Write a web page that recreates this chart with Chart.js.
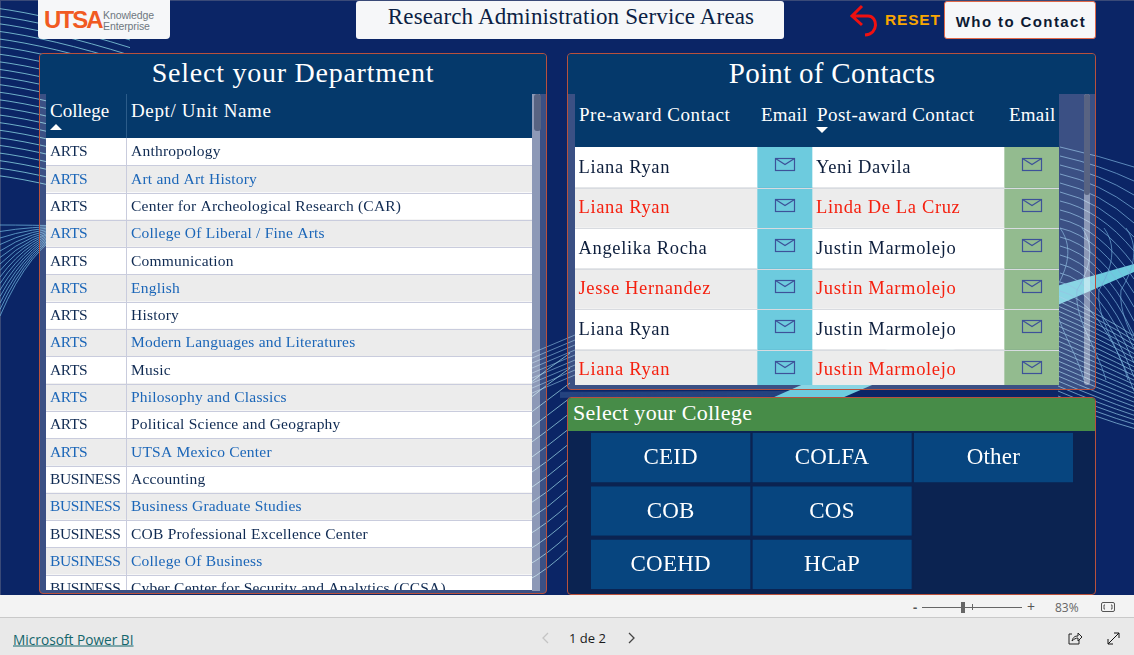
<!DOCTYPE html>
<html><head><meta charset="utf-8">
<script src="https://cdn.jsdelivr.net/npm/chart.js@4"></script>
<style>
*{box-sizing:border-box}
html,body{margin:0;padding:0;width:1134px;height:655px;overflow:hidden;background:#f3f3f3}
.a{position:absolute}
.s{font-family:"Liberation Serif",serif}
.t{position:absolute;white-space:nowrap;line-height:1;transform:translateY(-50%)}
.c{transform:translate(-50%,-50%)}
canvas{display:block}
</style></head><body>
<div class="a" id="report" style="left:0;top:0;width:1134px;height:595px;background:#0b2566;overflow:hidden;border-top:1px solid #3a4a78;border-left:1px solid #3a4a78"></div>
<svg class="a" id="decor" style="left:0;top:0" width="1134" height="595"></svg>

<!-- logo / title / buttons -->
<div class="a" style="left:38px;top:0;width:132px;height:39px;background:#f6f7f9;border-radius:0 0 4px 4px"></div>
<div class="t" style="left:44px;top:20px;font:bold 24px 'Liberation Sans';letter-spacing:-1.9px;color:#f15a22">UTSA</div>
<div class="t" style="left:103px;top:15px;font:10.5px 'Liberation Sans';letter-spacing:-.1px;color:#6f7780">Knowledge</div>
<div class="t" style="left:103px;top:26px;font:10.5px 'Liberation Sans';letter-spacing:-.1px;color:#6f7780">Enterprise</div>
<div class="a" style="left:356px;top:1px;width:428px;height:38px;background:#f6f7f9;border-radius:3px"></div>
<div class="t s c" style="left:571px;top:16px;font-size:23px;letter-spacing:.15px;color:#0c1f45">Research Administration Service Areas</div>
<svg class="a" style="left:848px;top:3px" width="34" height="34"><path d="M14 3 L4 13 L14 22 M5 13 H20 C30 13 31 31 17 32" fill="none" stroke="#f01010" stroke-width="3"/></svg>
<div class="t" style="left:885px;top:20px;font:bold 15.5px 'Liberation Sans';letter-spacing:.8px;color:#f9a602">RESET</div>
<div class="a" style="left:944px;top:1px;width:152px;height:38px;background:#f6f7f9;border:1px solid #e0694a;border-radius:3px"></div>
<div class="t c" style="left:1021px;top:21px;font:bold 15px 'Liberation Sans';letter-spacing:1.4px;color:#0d1a33">Who to Contact</div>

<!-- department panel -->
<div class="a" style="left:39px;top:53px;width:508px;height:541px;border:1px solid #b9513c;border-radius:4px;overflow:hidden;background:rgba(255,255,255,.2)">
  <div class="a" style="left:0;top:0;width:506px;height:40px;background:#05396b"></div>
  <div class="a" style="left:6px;top:40px;width:486px;height:44px;background:#05396b;border-right:0"></div>
  <div class="a" style="left:86px;top:40px;width:1px;height:44px;background:#2c5c8a"></div>
  <div class="a" style="left:492px;top:40px;width:8px;height:497px;background:rgba(255,255,255,.42)"></div>
  <div class="a" style="left:494px;top:40px;width:7px;height:37px;background:#586382;border-radius:3px"></div>
  <div class="a" style="left:6px;top:84px;width:486px;height:452px;overflow:hidden"><canvas id="deptChart" width="486" height="464"></canvas></div>
</div>
<div class="t s c" style="left:293px;top:73px;font-size:28px;letter-spacing:.75px;color:#fff">Select your Department</div>
<div class="t s" style="left:50px;top:110px;font-size:19px;color:#fff">College</div>
<svg class="a" style="left:49px;top:122px" width="16" height="10"><path d="M1 8 L7 2 L13 8Z" fill="#fff"/></svg>
<div class="t s" style="left:131px;top:110px;font-size:19px;letter-spacing:.65px;color:#fff">Dept/ Unit Name</div>

<!-- contacts panel -->
<div class="a" style="left:567px;top:53px;width:529px;height:337px;border:1px solid #b9513c;border-radius:4px;overflow:hidden;background:rgba(255,255,255,.2)">
  <div class="a" style="left:0;top:0;width:527px;height:40px;background:#05396b"></div>
  <div class="a" style="left:7px;top:40px;width:484px;height:53px;background:#05396b"></div>
  <div class="a" style="left:516px;top:40px;width:6px;height:291px;background:rgba(255,255,255,.42);border-radius:3px"></div>
  <div class="a" style="left:516px;top:40px;width:6px;height:101px;background:#586382;border-radius:3px"></div>
  <div class="a" style="left:7px;top:93px;width:484px;height:238px;overflow:hidden"><canvas id="contactChart" width="484" height="243"></canvas></div>
</div>
<div class="t s c" style="left:832px;top:73px;font-size:29px;letter-spacing:.3px;color:#fff">Point of Contacts</div>
<div class="t s" style="left:579px;top:113.5px;font-size:19px;letter-spacing:.55px;color:#fff">Pre-award Contact</div>
<div class="t s" style="left:761px;top:113.5px;font-size:19px;letter-spacing:.2px;color:#fff">Email</div>
<div class="t s" style="left:817px;top:113.5px;font-size:19px;letter-spacing:.45px;color:#fff">Post-award Contact</div>
<div class="t s" style="left:1009px;top:113.5px;font-size:19px;letter-spacing:.2px;color:#fff">Email</div>
<svg class="a" style="left:815px;top:126px" width="16" height="10"><path d="M1 1 L7 7 L13 1Z" fill="#fff"/></svg>

<!-- college panel -->
<div class="a" style="left:567px;top:397px;width:529px;height:198px;border:1px solid #b9513c;border-radius:4px;overflow:hidden;background:#0b2351">
  <div class="a" style="left:0;top:0;width:527px;height:33px;background:#478c48"></div>
  <div class="a" style="left:23px;top:33px"><canvas id="collegeChart" width="484" height="160"></canvas></div>
</div>
<div class="t s" style="left:573px;top:413px;font-size:22px;letter-spacing:.3px;color:#fff">Select your College</div>

<!-- viewer chrome -->
<div class="a" style="left:0;top:617px;width:1134px;height:38px;background:#e9e9e9;border-top:1px solid #c9c9c9"></div>
<div class="t" style="left:913px;top:607px;font:bold 13px 'Open Sans';color:#555">-</div>
<div class="a" style="left:922px;top:607px;width:100px;height:1px;background:#666"></div>
<div class="a" style="left:961px;top:602px;width:4px;height:11px;background:#666"></div>
<div class="a" style="left:972px;top:604px;width:1px;height:6px;background:#666"></div>
<div class="t" style="left:1027px;top:606px;font:14px 'Open Sans';color:#555">+</div>
<div class="t" style="left:1055px;top:607px;font:12px 'Open Sans';color:#666">83%</div>
<svg class="a" style="left:1100px;top:601px" width="16" height="13"><rect x="1.5" y="1.5" width="13" height="9" rx="1.5" fill="none" stroke="#555"/><path d="M5 4H4V8H5M11 4H12V8H11" fill="none" stroke="#555"/></svg>
<div class="t" style="left:13px;top:639px;font:13.7px 'Open Sans';text-decoration:underline;color:#14666c">Microsoft Power BI</div>
<svg class="a" style="left:540px;top:631px" width="12" height="14"><path d="M8 2 L3 7 L8 12" fill="none" stroke="#c4c4c4" stroke-width="1.3"/></svg>
<div class="t" style="left:569px;top:638px;font:13px 'Open Sans';color:#1a1a1a">1 de 2</div>
<svg class="a" style="left:626px;top:631px" width="12" height="14"><path d="M3 2 L8 7 L3 12" fill="none" stroke="#444" stroke-width="1.3"/></svg>
<svg class="a" style="left:1067px;top:631px" width="16" height="16"><path d="M5 3H2V13H12V9M5 10C6 6 8 5 11 5V2L15 6L11 10V7C9 7 7 8 5 10Z" fill="none" stroke="#222"/></svg>
<svg class="a" style="left:1106px;top:631px" width="15" height="15"><path d="M2 13L13 2M8 2H13V7M2 8V13H7" fill="none" stroke="#111"/></svg>

<script>
// ---- data ----
const deptColleges = ["ARTS","ARTS","ARTS","ARTS","ARTS","ARTS","ARTS","ARTS","ARTS","ARTS","ARTS","ARTS","BUSINESS","BUSINESS","BUSINESS","BUSINESS","BUSINESS"];
const deptNames = ["Anthropology","Art and Art History","Center for Archeological Research (CAR)","College Of Liberal / Fine Arts","Communication","English","History","Modern Languages and Literatures","Music","Philosophy and Classics","Political Science and Geography","UTSA Mexico Center","Accounting","Business Graduate Studies","COB Professional Excellence Center","College Of Business","Cyber Center for Security and Analytics (CCSA)"];
const preAward = ["Liana Ryan","Liana Ryan","Angelika Rocha","Jesse Hernandez","Liana Ryan","Liana Ryan"];
const postAward = ["Yeni Davila","Linda De La Cruz","Justin Marmolejo","Justin Marmolejo","Justin Marmolejo","Justin Marmolejo"];
const collegeRow1 = ["CEID","COLFA","Other"];
const collegeRow2 = ["COB","COS",null];
const collegeRow3 = ["COEHD","HCaP",null];
const contactColumnShare = [182,55,192,55];

// ---- decoration behind the panels ----
const NS="http://www.w3.org/2000/svg", decor=document.getElementById('decor');
function path(d,stroke,w,op,fill){const p=document.createElementNS(NS,'path');p.setAttribute('d',d);p.setAttribute('fill',fill||'none');p.setAttribute('stroke',stroke);p.setAttribute('stroke-width',w);p.setAttribute('opacity',op);decor.appendChild(p);}
for(let k=0;k<23;k++){const y=8+k*7.6;path(`M-5 ${y} Q 50 ${y+7} 130 ${y+32}`,'#8fdde8',1,.75);}
for(let k=0;k<15;k++){path(`M0 ${225+k*6.5} Q 30 ${225+k*1.5} 70 ${226+k*.2}`,'#6fb4dc',1,.75);}
for(let k=0;k<14;k++){path(`M525 ${582-k*15} Q 548 ${570-k*15.5} 570 ${548-k*15}`,'#9fdce8',1,.7);}
for(let k=0;k<9;k++){path(`M525 ${356+k*5} L 575 ${335+k*5}`,'#8fc0e0',1,.6);}
for(let k=0;k<20;k++){path(`M560 ${392+k*.3} L 800 ${391+k*.3}`,'#8fc0e0',.5,.15);}
path('M772 398 L842 398 L1134 272 L1134 264 L1060 285 Q 900 340 772 398Z','#6dcbde',0,1,'#6dcbde');
for(let k=0;k<17;k++){const a=147+k*9;path(`M1060 ${a} Q 1100 ${a+9} 1134 ${a+20+k*5}`,'#7db4de',1,.7);}
for(let k=0;k<22;k++){const a=296+k*5;path(`M1058 ${a} Q 1100 ${a+18} 1134 ${a+40-k*.6}`,'#8fc5e2',1,.7);}
for(let k=0;k<6;k++){const x=1060+k*22;path(`M${x} 228 C ${x+16} 250 ${x+4} 275 ${x-5} 290 C ${x-8} 320 ${x+14} 345 ${x+24} 380`,'#6fa8d6',1,.7);}

// ---- shared options ----
const serif='"Liberation Serif", serif';
function baseOptions(xMax){return {responsive:false,animation:false,indexAxis:'y',
  layout:{padding:0},events:[],
  plugins:{legend:{display:false},tooltip:{enabled:false}},
  scales:{x:{display:false,min:0,max:xMax,stacked:true,grid:{display:false}},
          y:{display:false,stacked:true,grid:{display:false}}}};}
function putText(ctx,txt,x,y,font,color,spacing,align){ctx.font=font;ctx.fillStyle=color;ctx.letterSpacing=spacing||'0px';ctx.textAlign=align||'left';ctx.textBaseline='middle';ctx.fillText(txt,x,y);}

// ---- department table ----
new Chart(document.getElementById('deptChart'),{type:'bar',
  data:{labels:deptNames,datasets:[{data:deptNames.map(()=>1),
    backgroundColor:deptNames.map((_,i)=>i%2?'#ececec':'#ffffff'),barPercentage:1,categoryPercentage:1}]},
  options:baseOptions(1),
  plugins:[{id:'deptText',afterDatasetsDraw(c){const ctx=c.ctx,x=c.scales.x,y=c.scales.y;ctx.save();
    const step=y.getPixelForValue(1)-y.getPixelForValue(0);
    deptNames.forEach((n,i)=>{const py=y.getPixelForValue(i);
      const col=i%2?'#1b66b8':'#0f2a52';
      putText(ctx,deptColleges[i],x.getPixelForValue(0)+4,py+.7,'15.5px '+serif,col,'-0.35px');
      putText(ctx,n,x.getPixelForValue(0)+85,py+.7,'15.5px '+serif,col,'0.22px');
      ctx.fillStyle='#c9ccdd';ctx.fillRect(0,Math.round(py+step/2),c.width,1);});
    ctx.fillStyle='#c9ccdd';ctx.fillRect(80,0,1,c.height);ctx.restore();}}]});

// ---- contact table ----
const rowFill=(a,b)=>preAward.map((_,i)=>i%2?b:a);
new Chart(document.getElementById('contactChart'),{type:'bar',
  data:{labels:preAward,datasets:contactColumnShare.map((w,k)=>({data:preAward.map(()=>w),
    backgroundColor:k===1?'#6dcbde':k===3?'#93bb8f':rowFill('#ffffff','#ececec'),barPercentage:1,categoryPercentage:1}))},
  options:baseOptions(contactColumnShare.reduce((a,b)=>a+b,0)),
  plugins:[{id:'contactText',afterDatasetsDraw(c){const ctx=c.ctx,x=c.scales.x,y=c.scales.y;ctx.save();
    const step=y.getPixelForValue(1)-y.getPixelForValue(0);
    const edge=[0,contactColumnShare[0],contactColumnShare[0]+contactColumnShare[1],contactColumnShare[0]+contactColumnShare[1]+contactColumnShare[2]];
    preAward.forEach((n,i)=>{const py=y.getPixelForValue(i);
      const col=i%2?'#f5200f':'#0d1e3c';
      putText(ctx,n,x.getPixelForValue(edge[0])+3.5,py+.6,'18.5px '+serif,col,'0.65px');
      putText(ctx,postAward[i],x.getPixelForValue(edge[2])+4,py+.6,'18.5px '+serif,col,'0.65px');
      [edge[1]+contactColumnShare[1]/2,edge[3]+contactColumnShare[3]/2].forEach(v=>{
        const ex=Math.round(x.getPixelForValue(v))-9.5,ey=Math.round(py)-8.5;
        ctx.strokeStyle='#3d5299';ctx.lineWidth=1.2;ctx.strokeRect(ex,ey,19,12);
        ctx.beginPath();ctx.moveTo(ex,ey);ctx.lineTo(ex+9.5,ey+6);ctx.lineTo(ex+19,ey);ctx.stroke();});
      ctx.fillStyle='#d8dbe0';ctx.fillRect(0,Math.round(py+step/2),c.width,1);});
    ctx.restore();}}]});

// ---- college slicer ----
const collegeRows=[collegeRow1,collegeRow2,collegeRow3];
new Chart(document.getElementById('collegeChart'),{type:'bar',
  data:{labels:["Row 1","Row 2","Row 3"],datasets:[0,1,2].map(k=>({
    data:collegeRows.map(r=>r[k]?1:null),backgroundColor:'#07457f',borderColor:'#0b2351',
    borderWidth:{right:2},borderSkipped:false,barPercentage:.93,categoryPercentage:1}))},
  options:baseOptions(3),
  plugins:[{id:'collegeText',afterDatasetsDraw(c){const ctx=c.ctx,x=c.scales.x,y=c.scales.y;ctx.save();
    collegeRows.forEach((r,i)=>r.forEach((n,k)=>{if(n)putText(ctx,n,x.getPixelForValue(k+.5)-1,y.getPixelForValue(i)+.5,'23px '+serif,'#ffffff','0.2px','center');}));
    ctx.restore();}}]});
</script>
</body></html>
